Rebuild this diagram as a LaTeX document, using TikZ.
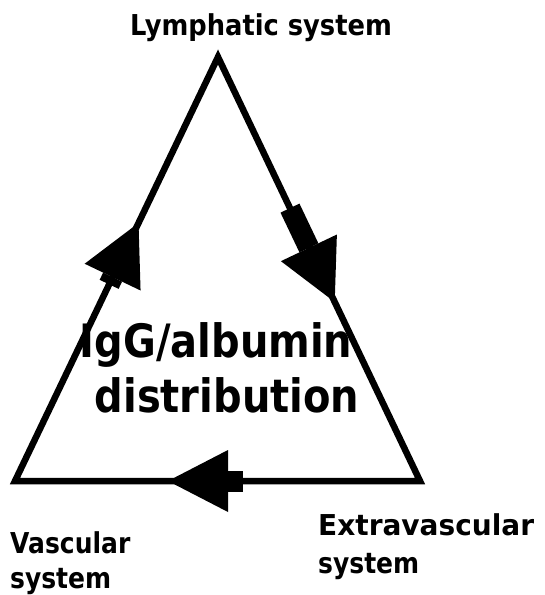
\documentclass[tikz,border=0pt]{standalone}
\usepackage{fontspec}
\setmainfont{DejaVu Sans}
\usetikzlibrary{calc}
\begin{document}
\begin{tikzpicture}[x=1pt,y=-1pt,
  edge/.style={line width=6.5pt, line join=miter},
  stub/.style={line width=21pt},
  lbl/.style={font=\bfseries\fontsize{25}{30}\selectfont, inner sep=0pt},
  big/.style={font=\bfseries\fontsize{40}{48}\selectfont, inner sep=0pt}]
\useasboundingbox (0,0) rectangle (545,595);
% triangle corners
\coordinate (V) at (15,481);
\coordinate (L) at (218,57);
\coordinate (E) at (420,481);
\draw[edge] (V) -- (L) -- (E) -- cycle;
% arrow tips on the edges
\coordinate (tL) at (138.5,223);
\coordinate (tR) at (334.7,302);
\coordinate (tB) at (168,481);
% left arrow (V -> L)
\coordinate (hbL) at ($(tL)!60pt!(V)$);
\fill (tL) -- ($(hbL)!31pt!90:(tL)$) -- ($(hbL)!31pt!-90:(tL)$) -- cycle;
\draw[stub] (hbL) -- ($(hbL)!8pt!(V)$);
% right arrow (L -> E)
\coordinate (hbR) at ($(tR)!60pt!(L)$);
\fill (tR) -- ($(hbR)!31pt!90:(tR)$) -- ($(hbR)!31pt!-90:(tR)$) -- cycle;
\draw[stub] (hbR) -- ($(hbR)!44pt!(L)$);
% bottom arrow (E -> V)
\coordinate (hbB) at ($(tB)!60pt!(E)$);
\fill (tB) -- ($(hbB)!31pt!90:(tB)$) -- ($(hbB)!31pt!-90:(tB)$) -- cycle;
\draw[stub] (hbB) -- ($(hbB)!15pt!(E)$);
% labels
\node[lbl, anchor=base] (lym) at (261,35) {\scalebox{1.03}[1.15]{Lymphatic system}};
\node[lbl, anchor=base west] (vas1) at (10,553) {\scalebox{1}[1.15]{Vascular}};
\node[lbl, anchor=base west] (vas2) at (10,588) {\scalebox{1}[1.15]{system}};
\node[lbl, anchor=base west] (ext1) at (318,535) {\scalebox{1.12}[1.15]{Extravascular}};
\node[lbl, anchor=base west] (ext2) at (318,573) {\scalebox{1}[1.15]{system}};
\node[big, anchor=base] (igg) at (216,357) {\scalebox{1}[1.15]{IgG/albumin}};
\node[big, anchor=base] (dis) at (227,412) {\scalebox{1}[1.15]{distribution}};
\end{tikzpicture}
\end{document}
